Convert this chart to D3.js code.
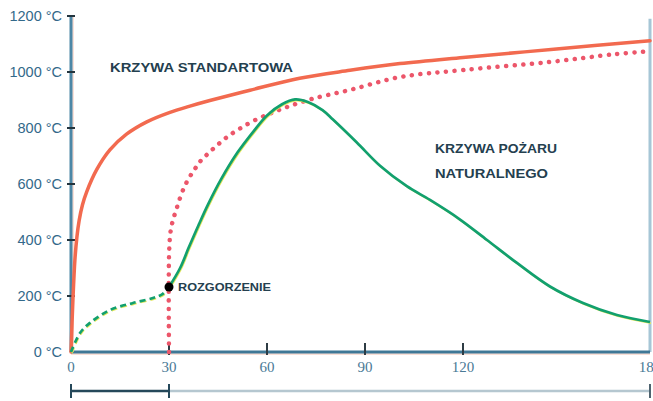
<!DOCTYPE html>
<html>
<head>
<meta charset="utf-8">
<script src="https://cdn.jsdelivr.net/npm/d3@7"></script>
<style>
    body { margin: 0; background: #fff; }
    .line { fill: none; }
    .standard { stroke: #f26a4f; stroke-width: 3.5; stroke-linecap: round; }
    .shifted { stroke: #ec566a; stroke-width: 4.5; stroke-linecap: round; stroke-dasharray: 0.1, 8.5; }
    .natural { stroke: #12a06e; stroke-width: 2.7; }
    .halo { stroke: #e4e65a; stroke-width: 1.6; }
    .ylabel { font-family: "Liberation Sans", Arial, sans-serif; font-size: 14.5px; fill: #33698a; }
    .xlabel { font-family: "Liberation Serif", "Times New Roman", serif; font-size: 15px; fill: #4a7a96; }
    .note { font-family: "Liberation Sans", Arial, sans-serif; font-weight: bold; fill: #24404f; }
</style>
</head>
<body>
<svg id="chart"></svg>
<script>
// time in minutes, temperature in °C
var standardTime = [0, 0.6, 1.2, 1.8, 2.5, 3.5, 4.8, 7.9, 11.9, 17, 23.2, 30.3, 36.4, 42.5, 54.8, 70, 85.4, 100.7, 120, 150, 180];
var standardTemp = [0, 190, 330, 410, 470, 525, 572, 652, 722, 778, 822, 856, 878, 898, 935, 978, 1006, 1030, 1052, 1082, 1112];

var shiftedTime = [30, 30.05, 30.6, 31.4, 32.4, 34, 35.8, 38, 39.5, 41.9, 44.7, 47.8, 51.7, 56.3, 61.5, 66.4, 73.8, 85.4, 100.7, 120, 148, 169, 180];
var shiftedTemp = [0, 360, 440, 478, 515, 570, 615, 655, 680, 708, 738, 768, 798, 828, 854, 876, 904, 936, 982, 1007, 1036, 1064, 1074];

var preFlashTime = [0, 2.75, 5.8, 11.9, 19, 25.1, 28, 30];
var preFlashTemp = [0, 68, 104, 150, 175, 193, 207, 232];

var naturalTime = [30, 33.4, 36, 39, 42, 46, 51, 56, 60, 64.6, 68.6, 72.5, 77, 80.2, 87.5, 94.6, 102.8, 109.9, 119, 127.7, 137.3, 147.9, 158.5, 169.4, 180];
var naturalTemp = [232, 300, 372, 452, 528, 618, 713, 790, 845, 885, 902, 893, 864, 830, 748, 665, 592, 543, 474, 400, 318, 234, 175, 132, 107];

var flashover = { time: 30, temp: 232 };

var yTicks = [0, 200, 400, 600, 800, 1000, 1200];
var xTicks = [0, 30, 60, 90, 120, 180];

function zip(ts, vs) {
    return ts.map(function (t, i) { return { t: t, v: vs[i] }; });
}

var width = 653, height = 401;

var svg = d3.select("#chart")
    .attr("width", width)
    .attr("height", height);

var x = d3.scaleLinear()
    .domain([0, 120, 180])
    .range([71, 463, 650]);

var y = d3.scaleLinear()
    .domain([0, 1200])
    .range([352, 16]);

// right frame line
svg.append("line")
    .attr("x1", x(180)).attr("x2", x(180))
    .attr("y1", y(1190)).attr("y2", y(0))
    .attr("stroke", "#a6c6d6")
    .attr("stroke-width", 3);

// x axis
svg.append("line")
    .attr("x1", x(0)).attr("x2", x(180))
    .attr("y1", y(0) + 2).attr("y2", y(0) + 2)
    .attr("stroke", "#f6c2b0")
    .attr("stroke-width", 1);
svg.append("line")
    .attr("x1", x(0)).attr("x2", x(180))
    .attr("y1", y(0)).attr("y2", y(0))
    .attr("stroke", "#3f7896")
    .attr("stroke-width", 3);

svg.append("g")
    .selectAll("line")
    .data(xTicks.filter(function (d) { return d > 0 && d < 180; }))
    .enter()
    .append("line")
    .attr("x1", function (d) { return x(d); })
    .attr("x2", function (d) { return x(d); })
    .attr("y1", y(0) - 9)
    .attr("y2", y(0) + 3)
    .attr("stroke", "#2e3c44")
    .attr("stroke-width", 2);

svg.append("g")
    .selectAll("text")
    .data(xTicks)
    .enter()
    .append("text")
    .attr("class", "xlabel")
    .attr("x", function (d) { return x(d); })
    .attr("y", 372)
    .attr("text-anchor", "middle")
    .text(function (d) { return d; });

// y axis
svg.append("line")
    .attr("x1", x(0) + 2).attr("x2", x(0) + 2)
    .attr("y1", y(1200)).attr("y2", y(0))
    .attr("stroke", "#f6c2b0")
    .attr("stroke-width", 1);
svg.append("line")
    .attr("x1", x(0)).attr("x2", x(0))
    .attr("y1", y(1200)).attr("y2", y(0))
    .attr("stroke", "#4d87a6")
    .attr("stroke-width", 3);

svg.append("g")
    .selectAll("line")
    .data(yTicks.filter(function (d) { return d > 0; }))
    .enter()
    .append("line")
    .attr("x1", x(0) - 4)
    .attr("x2", x(0) + 4)
    .attr("y1", function (d) { return y(d); })
    .attr("y2", function (d) { return y(d); })
    .attr("stroke", "#23343e")
    .attr("stroke-width", 2);

svg.append("g")
    .selectAll("text")
    .data(yTicks)
    .enter()
    .append("text")
    .attr("class", "ylabel")
    .attr("x", 62)
    .attr("y", function (d) { return y(d); })
    .attr("dy", "0.36em")
    .attr("text-anchor", "end")
    .text(function (d) { return d + " °C"; });

// bracket under the axis
svg.append("line")
    .attr("x1", x(30)).attr("x2", x(180))
    .attr("y1", 391).attr("y2", 391)
    .attr("stroke", "#b5c7d0")
    .attr("stroke-width", 2.5);
svg.append("line")
    .attr("x1", x(0)).attr("x2", x(30))
    .attr("y1", 391).attr("y2", 391)
    .attr("stroke", "#25485a")
    .attr("stroke-width", 2.5);
svg.append("g")
    .selectAll("line")
    .data([0, 30, 180])
    .enter()
    .append("line")
    .attr("x1", function (d) { return x(d); })
    .attr("x2", function (d) { return x(d); })
    .attr("y1", 384)
    .attr("y2", 398)
    .attr("stroke", function (d) { return d == 180 ? "#4e6470" : "#25485a"; })
    .attr("stroke-width", 2);

// curves
var line = d3.line()
    .x(function (d) { return x(d.t); })
    .y(function (d) { return y(d.v); })
    .curve(d3.curveCatmullRom.alpha(0.5));

svg.append("path")
    .datum(zip(shiftedTime, shiftedTemp))
    .attr("class", "shifted line")
    .attr("d", line);

svg.append("path")
    .datum(zip(standardTime, standardTemp))
    .attr("class", "standard line")
    .attr("d", line);

var natural = zip(naturalTime, naturalTemp);
var preFlash = zip(preFlashTime, preFlashTemp);

svg.append("path")
    .datum(natural)
    .attr("class", "halo line")
    .attr("transform", "translate(1,1.2)")
    .attr("d", line);
svg.append("path")
    .datum(natural)
    .attr("class", "natural line")
    .attr("d", line);

svg.append("path")
    .datum(preFlash)
    .attr("class", "halo line")
    .attr("stroke-dasharray", "6,4")
    .attr("transform", "translate(1,1.2)")
    .attr("d", line);
svg.append("path")
    .datum(preFlash)
    .attr("class", "natural line")
    .attr("stroke-dasharray", "6,4")
    .attr("d", line);

svg.append("circle")
    .attr("cx", x(flashover.time))
    .attr("cy", y(flashover.temp))
    .attr("r", 4.5)
    .attr("fill", "#000");

// labels
svg.append("text")
    .attr("class", "note")
    .attr("x", 110).attr("y", 67)
    .attr("dy", "0.36em")
    .attr("font-size", 13)
    .attr("textLength", 183)
    .attr("lengthAdjust", "spacingAndGlyphs")
    .text("KRZYWA STANDARTOWA");

svg.append("text")
    .attr("class", "note")
    .attr("x", 435).attr("y", 148)
    .attr("dy", "0.36em")
    .attr("font-size", 12.5)
    .attr("textLength", 122)
    .attr("lengthAdjust", "spacingAndGlyphs")
    .text("KRZYWA POŻARU");

svg.append("text")
    .attr("class", "note")
    .attr("x", 435).attr("y", 173)
    .attr("dy", "0.36em")
    .attr("font-size", 12.5)
    .attr("textLength", 113)
    .attr("lengthAdjust", "spacingAndGlyphs")
    .text("NATURALNEGO");

svg.append("text")
    .attr("class", "note")
    .attr("x", 178).attr("y", 287)
    .attr("dy", "0.36em")
    .attr("font-size", 11)
    .attr("font-weight", "normal")
    .attr("fill", "#1e2f3a")
    .attr("textLength", 93)
    .attr("lengthAdjust", "spacingAndGlyphs")
    .text("ROZGORZENIE");
</script>
</body>
</html>
